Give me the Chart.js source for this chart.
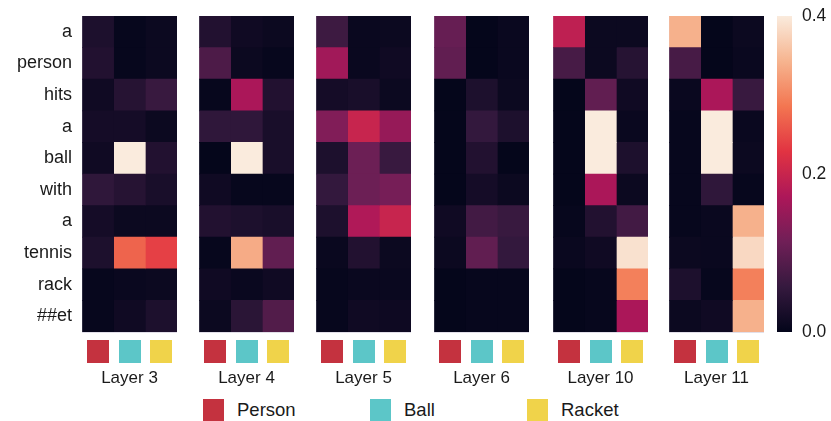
<!DOCTYPE html>
<html>
<head>
<meta charset="utf-8">
<script src="https://cdn.jsdelivr.net/npm/chart.js@4.4.1/dist/chart.umd.min.js"></script>
<style>
  html, body { margin: 0; padding: 0; background: #fff; width: 831px; height: 421px; overflow: hidden; }
  #wrap { position: relative; width: 831px; height: 421px; }
  #wrap canvas { position: absolute; top: 0; }
  .key { position: absolute; top: 399px; height: 22px; display: flex; align-items: center;
         font-family: "Liberation Sans", Arial, sans-serif; font-size: 18.5px; color: #1a1a1a; white-space: nowrap; }
  .key i { display: inline-block; width: 21px; height: 22px; margin-right: 13px; }
</style>
</head>
<body>
<div id="wrap">
  <canvas id="h0" width="177" height="389" style="left:0px"></canvas>
  <canvas id="h1" width="95" height="389" style="left:199px"></canvas>
  <canvas id="h2" width="95" height="389" style="left:316px"></canvas>
  <canvas id="h3" width="95" height="389" style="left:434px"></canvas>
  <canvas id="h4" width="95" height="389" style="left:553px"></canvas>
  <canvas id="h5" width="95" height="389" style="left:669px"></canvas>
  <canvas id="cbar" width="54" height="348" style="left:777px"></canvas>
  <div class="key" id="k0" style="left:203px"></div>
  <div class="key" id="k1" style="left:370px"></div>
  <div class="key" id="k2" style="left:527px"></div>
</div>
<script>
// Tokens of the caption (rows) and the three grounded concepts (columns)
const tokens = ['a', 'person', 'hits', 'a', 'ball', 'with', 'a', 'tennis', 'rack', '##et'];
const concepts = ['Person', 'Ball', 'Racket'];
const conceptColors = ['#c4323f', '#5cc6c8', '#f0d34a'];
const layerNames = ['Layer 3', 'Layer 4', 'Layer 5', 'Layer 6', 'Layer 10', 'Layer 11'];

// Attention weights per layer: [Person column, Ball column, Racket column], one value per token
const layer3 = [
  [0.030, 0.035, 0.015, 0.020, 0.015, 0.050, 0.020, 0.030, 0.005, 0.005],
  [0.005, 0.005, 0.040, 0.020, 0.400, 0.040, 0.010, 0.270, 0.008, 0.015],
  [0.010, 0.010, 0.060, 0.010, 0.035, 0.025, 0.010, 0.240, 0.010, 0.030]
];
const layer4 = [
  [0.035, 0.080, 0.005, 0.050, 0.002, 0.015, 0.035, 0.005, 0.015, 0.010],
  [0.015, 0.010, 0.170, 0.050, 0.400, 0.005, 0.030, 0.335, 0.008, 0.045],
  [0.010, 0.005, 0.035, 0.025, 0.025, 0.005, 0.025, 0.100, 0.015, 0.085]
];
const layer5 = [
  [0.065, 0.160, 0.020, 0.130, 0.030, 0.055, 0.030, 0.008, 0.005, 0.005],
  [0.008, 0.008, 0.025, 0.200, 0.110, 0.110, 0.175, 0.035, 0.008, 0.015],
  [0.010, 0.015, 0.010, 0.150, 0.060, 0.120, 0.200, 0.010, 0.008, 0.012]
];
const layer6 = [
  [0.105, 0.100, 0.002, 0.002, 0.002, 0.002, 0.015, 0.010, 0.002, 0.002],
  [0.002, 0.002, 0.030, 0.055, 0.035, 0.020, 0.070, 0.100, 0.005, 0.005],
  [0.008, 0.008, 0.010, 0.030, 0.002, 0.010, 0.060, 0.055, 0.005, 0.005]
];
const layer10 = [
  [0.190, 0.075, 0.002, 0.002, 0.002, 0.002, 0.005, 0.008, 0.002, 0.002],
  [0.010, 0.010, 0.100, 0.400, 0.400, 0.170, 0.035, 0.015, 0.005, 0.005],
  [0.010, 0.040, 0.015, 0.008, 0.030, 0.010, 0.070, 0.390, 0.295, 0.170]
];
const layer11 = [
  [0.340, 0.075, 0.008, 0.005, 0.005, 0.005, 0.005, 0.010, 0.030, 0.010],
  [0.002, 0.002, 0.170, 0.400, 0.400, 0.050, 0.008, 0.008, 0.005, 0.015],
  [0.010, 0.008, 0.060, 0.008, 0.010, 0.005, 0.340, 0.380, 0.295, 0.340]
];
const layers = [layer3, layer4, layer5, layer6, layer10, layer11];

// Colour scale range and its tick marks
const vmin = 0.0;
const vmax = 0.4;
const colorbarTicks = [0.0, 0.2, 0.4];

// "rocket" colormap anchors, evenly spaced from 0 to 1
const rocketStops = ['#03051a', '#35193e', '#701f57', '#ad1759', '#e13342', '#f37651', '#f6b48f', '#faebdd'];

function hexToRgb(h) {
  const n = parseInt(h.slice(1), 16);
  return [(n >> 16) & 255, (n >> 8) & 255, n & 255];
}
const rocketRgb = rocketStops.map(hexToRgb);

function rocket(t) {
  t = Math.max(0, Math.min(1, t));
  const p = t * (rocketRgb.length - 1);
  const i = Math.min(Math.floor(p), rocketRgb.length - 2);
  const f = p - i;
  const a = rocketRgb[i], b = rocketRgb[i + 1];
  const c = a.map((v, k) => Math.round(v + (b[k] - v) * f));
  return `rgb(${c[0]},${c[1]},${c[2]})`;
}

const FONT = '"Liberation Sans", Arial, sans-serif';
const TEXT = '#1a1a1a';
const GRID = 'rgba(150,140,175,0.28)';

// Small concept swatches under each heatmap column
const conceptSquares = {
  id: 'conceptSquares',
  afterDraw(chart) {
    const { ctx, scales: { x }, chartArea } = chart;
    ctx.save();
    concepts.forEach((_, c) => {
      const cx = x.getPixelForValue(c + 0.5);
      ctx.fillStyle = conceptColors[c];
      ctx.fillRect(Math.round(cx - 11), Math.round(chartArea.bottom + 8), 22, 23);
    });
    ctx.restore();
  }
};

function heatmap(id, values, title, showTokens) {
  return new Chart(document.getElementById(id), {
    type: 'bar',
    data: {
      labels: tokens,
      datasets: concepts.map((name, c) => ({
        label: name,
        data: tokens.map(() => [c, c + 1]),
        backgroundColor: values[c].map(v => rocket((v - vmin) / (vmax - vmin))),
        borderWidth: 0,
        grouped: false,
        barPercentage: 1,
        categoryPercentage: 1
      }))
    },
    options: {
      indexAxis: 'y',
      responsive: false,
      animation: false,
      devicePixelRatio: 1,
      layout: { padding: { top: 16, left: 0, right: 0, bottom: 0 } },
      plugins: { legend: { display: false }, tooltip: { enabled: false } },
      scales: {
        y: {
          type: 'category',
          offset: true,
          z: 1,
          grid: { offset: true, color: GRID, drawTicks: false },
          border: { display: false },
          ticks: { display: showTokens, padding: 10, color: TEXT, font: { family: FONT, size: 18 } },
          afterFit: s => { s.width = showTokens ? 82 : 0; s.paddingTop = 0; s.paddingBottom = 0; }
        },
        x: {
          type: 'linear',
          min: 0,
          max: 3,
          z: 1,
          ticks: { display: false, stepSize: 1 },
          grid: { color: GRID, drawTicks: false },
          border: { display: false },
          title: { display: true, text: title, padding: 0, color: TEXT, font: { family: FONT, size: 17 } },
          afterFit: s => { s.height = 57; s.paddingLeft = 0; s.paddingRight = 0; }
        }
      }
    },
    plugins: [conceptSquares]
  });
}

layers.forEach((vals, k) => heatmap('h' + k, vals, layerNames[k], k === 0));

// Colour bar for the shared scale
new Chart(document.getElementById('cbar'), {
  type: 'bar',
  data: {
    labels: [''],
    datasets: [{
      data: [[vmin, vmax]],
      backgroundColor: ctx => {
        const area = ctx.chart.chartArea;
        if (!area) return rocketStops[0];
        const g = ctx.chart.ctx.createLinearGradient(0, area.bottom, 0, area.top);
        rocketStops.forEach((c, i) => g.addColorStop(i / (rocketStops.length - 1), c));
        return g;
      },
      borderWidth: 0,
      barPercentage: 1,
      categoryPercentage: 1
    }]
  },
  options: {
    responsive: false,
    animation: false,
    devicePixelRatio: 1,
    layout: { padding: { top: 16, bottom: 16, left: 0, right: 0 } },
    plugins: { legend: { display: false }, tooltip: { enabled: false } },
    scales: {
      x: { display: false },
      y: {
        position: 'right',
        min: vmin,
        max: vmax,
        grid: { display: false, drawTicks: false },
        border: { display: false },
        ticks: { padding: 10, color: TEXT, font: { family: FONT, size: 17.5 }, callback: v => Number(v).toFixed(1) },
        afterBuildTicks: s => { s.ticks = colorbarTicks.map(v => ({ value: v })); },
        afterFit: s => { s.width = 39; s.paddingTop = 0; s.paddingBottom = 0; }
      }
    }
  }
});

// Concept key along the bottom
concepts.forEach((name, c) => {
  const el = document.getElementById('k' + c);
  const sw = document.createElement('i');
  sw.style.background = conceptColors[c];
  el.appendChild(sw);
  el.appendChild(document.createTextNode(name));
});
</script>
</body>
</html>
